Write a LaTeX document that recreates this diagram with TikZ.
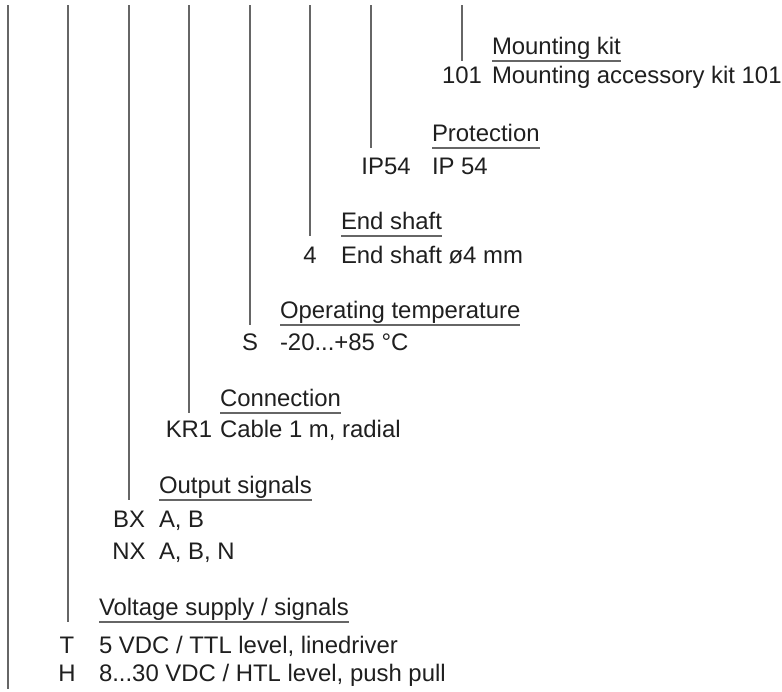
\documentclass[tikz,border=0pt]{standalone}
\usepackage{fontspec}
\setmainfont{Liberation Sans}
\usetikzlibrary{positioning}

\begin{document}
\begin{tikzpicture}[x=0.5pt, y=-0.5pt,
  every node/.style={inner sep=0, outer sep=0, text=black!88, font=\fontsize{11.95}{14}\selectfont},
  header/.style={anchor=base west},
  entry/.style={anchor=base west},
  code/.style={anchor=base},
  rule/.style={draw=black!60, line width=0.6pt}]
\useasboundingbox (0,0) rectangle (782,691);

\node[header](kitHeader) at (492,54) {Mounting kit};
\node[entry](kitEntry) at (492,83) {Mounting accessory kit 101};
\node[code](kitCode) at (462,83) {101};

\node[header](protHeader) at (432,141) {Protection};
\node[entry](protEntry) at (432,174) {IP 54};
\node[code](protCode) at (386,174) {IP54};

\node[header](shaftHeader) at (341,229) {End shaft};
\node[entry](shaftEntry) at (341,263) {End shaft ø4 mm};
\node[code](shaftCode) at (310,263) {4};

\node[header](tempHeader) at (280,318) {Operating temperature};
\node[entry](tempEntry) at (280,350) {-20...+85 °C};
\node[code](tempCode) at (250,350) {S};

\node[header](connHeader) at (220,406) {Connection};
\node[entry](connEntry) at (220,437) {Cable 1 m, radial};
\node[code](connCode) at (189,437) {KR1};

\node[header](outHeader) at (159,493) {Output signals};
\node[entry](outEntryB) at (159,527) {A, B};
\node[code](outCodeB) at (129,527) {BX};
\node[entry](outEntryN) at (159,559) {A, B, N};
\node[code](outCodeN) at (129,559) {NX};

\node[header](voltHeader) at (99,615) {Voltage supply / signals};
\node[entry](voltEntryT) at (99,653) {5 VDC / TTL level, linedriver};
\node[code](voltCodeT) at (67,653) {T};
\node[entry](voltEntryH) at (99,681) {8...30 VDC / HTL level, push pull};
\node[code](voltCodeH) at (67,681) {H};

% underlines below the headers
\coordinate (kitRuleLeft) at ([yshift=-3.5pt] kitHeader.base west);
\coordinate (kitRuleRight) at ([yshift=-3.5pt] kitHeader.base east);
\coordinate (protRuleLeft) at ([yshift=-3.5pt] protHeader.base west);
\coordinate (protRuleRight) at ([yshift=-3.5pt] protHeader.base east);
\coordinate (shaftRuleLeft) at ([yshift=-3.5pt] shaftHeader.base west);
\coordinate (shaftRuleRight) at ([yshift=-3.5pt] shaftHeader.base east);
\coordinate (tempRuleLeft) at ([yshift=-3.5pt] tempHeader.base west);
\coordinate (tempRuleRight) at ([yshift=-3.5pt] tempHeader.base east);
\coordinate (connRuleLeft) at ([yshift=-3.5pt] connHeader.base west);
\coordinate (connRuleRight) at ([yshift=-3.5pt] connHeader.base east);
\coordinate (outRuleLeft) at ([yshift=-3.5pt] outHeader.base west);
\coordinate (outRuleRight) at ([yshift=-3.5pt] outHeader.base east);
\coordinate (voltRuleLeft) at ([yshift=-3.5pt] voltHeader.base west);
\coordinate (voltRuleRight) at ([yshift=-3.5pt] voltHeader.base east);

\draw[rule] (kitRuleLeft) -- (kitRuleRight);
\draw[rule] (protRuleLeft) -- (protRuleRight);
\draw[rule] (shaftRuleLeft) -- (shaftRuleRight);
\draw[rule] (tempRuleLeft) -- (tempRuleRight);
\draw[rule] (connRuleLeft) -- (connRuleRight);
\draw[rule] (outRuleLeft) -- (outRuleRight);
\draw[rule] (voltRuleLeft) -- (voltRuleRight);

% lines from the top down to each group
\coordinate (baseLineTop) at (8,5);
\coordinate (baseLineEnd) at (8,689);
\coordinate (voltLineTop) at (68,5);
\coordinate (outLineTop) at (129,5);
\coordinate (connLineTop) at (189,5);
\coordinate (tempLineTop) at (250,5);
\coordinate (shaftLineTop) at (310,5);
\coordinate (protLineTop) at (371,5);
\coordinate (kitLineTop) at (462,5);

\draw[rule] (baseLineTop) -- (baseLineEnd);
\draw[rule] (voltLineTop) -- (voltLineTop |- voltRuleLeft);
\draw[rule] (outLineTop) -- (outLineTop |- outRuleLeft);
\draw[rule] (connLineTop) -- (connLineTop |- connRuleLeft);
\draw[rule] (tempLineTop) -- (tempLineTop |- tempRuleLeft);
\draw[rule] (shaftLineTop) -- (shaftLineTop |- shaftRuleLeft);
\draw[rule] (protLineTop) -- (protLineTop |- protRuleLeft);
\draw[rule] (kitLineTop) -- (kitLineTop |- kitRuleLeft);

\end{tikzpicture}
\end{document}
